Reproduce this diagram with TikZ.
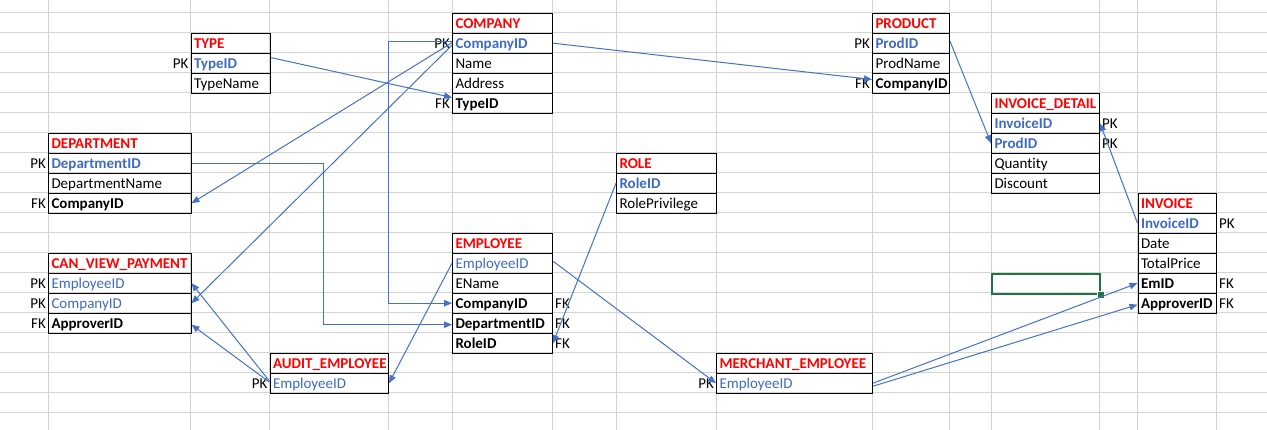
\documentclass[tikz,border=0pt]{standalone}
\usepackage{fontspec}
\setmainfont[Ligatures=NoCommon]{Carlito}
\usetikzlibrary{arrows.meta}
\definecolor{keyblue}{HTML}{3F6BBE}
\definecolor{lineblue}{HTML}{4472C4}
\definecolor{gridgray}{HTML}{D4D4D4}
\definecolor{selgreen}{HTML}{217346}
\newcommand\xlfont{\fontsize{15}{17}\selectfont}
\tikzset{
  cell/.style={draw=black, line width=1pt, minimum height=20pt, inner xsep=3pt, inner ysep=0pt,
    text height=13pt, text depth=2pt, align=left, font=\xlfont, anchor=north west},
  hdr/.style={cell, font=\xlfont\bfseries, text=red},
  pkb/.style={cell, font=\xlfont\bfseries, text=keyblue},
  pkn/.style={cell, text=keyblue},
  fk/.style={cell, font=\xlfont\bfseries},
  tagl/.style={font=\xlfont, inner sep=0pt, anchor=base east},
  tagr/.style={font=\xlfont, inner sep=0pt, anchor=base west},
  gridline/.style={draw=gridgray, line width=1pt},
  rel/.style={draw=lineblue, line width=1pt, -{Triangle[length=8pt,width=6.5pt]}},
}
\begin{document}
\begin{tikzpicture}[x=1pt,y=-1pt]
\useasboundingbox (0,0) rectangle (1267,430);
\fill[white] (0,0) rectangle (1267,430);
% grid
\foreach \x in {48,190.5,269.5,388,452,552,616,716,872,949,991,1099,1137.5,1216}
  \draw[gridline] (\x,0) -- (\x,430);
\foreach \k in {0,...,20}
  \draw[gridline] (0,{12.7+20*\k}) -- (1267,{12.7+20*\k});

% TYPE
\node[hdr, text width=73pt] (type-h) at (190.5,32.7) {TYPE};
\node[pkb, text width=73pt] (type-TypeID) at (190.5,52.7) {TypeID};
\node[cell, text width=73pt] (type-TypeName) at (190.5,72.7) {TypeName};
\node[tagl] (type-pk) at ([xshift=-2pt]type-TypeID.base west) {PK};

% COMPANY
\node[hdr, text width=94pt] (company-h) at (452,12.7) {COMPANY};
\node[pkb, text width=94pt] (company-CompanyID) at (452,32.7) {CompanyID};
\node[cell, text width=94pt] (company-Name) at (452,52.7) {Name};
\node[cell, text width=94pt] (company-Address) at (452,72.7) {Address};
\node[fk, text width=94pt] (company-TypeID) at (452,92.7) {TypeID};
\node[tagl] (company-pk) at ([xshift=-2pt]company-CompanyID.base west) {PK};
\node[tagl] (company-fk) at ([xshift=-2pt]company-TypeID.base west) {FK};

% PRODUCT
\node[hdr, text width=71pt] (product-h) at (872,12.7) {PRODUCT};
\node[pkb, text width=71pt] (product-ProdID) at (872,32.7) {ProdID};
\node[cell, text width=71pt] (product-ProdName) at (872,52.7) {ProdName};
\node[fk, text width=71pt] (product-CompanyID) at (872,72.7) {CompanyID};
\node[tagl] (product-pk) at ([xshift=-2pt]product-ProdID.base west) {PK};
\node[tagl] (product-fk) at ([xshift=-2pt]product-CompanyID.base west) {FK};

% INVOICE_DETAIL
\node[hdr, text width=102pt] (invdet-h) at (991,92.7) {INVOICE\_DETAIL};
\node[pkb, text width=102pt] (invdet-InvoiceID) at (991,112.7) {InvoiceID};
\node[pkb, text width=102pt] (invdet-ProdID) at (991,132.7) {ProdID};
\node[cell, text width=102pt] (invdet-Quantity) at (991,152.7) {Quantity};
\node[cell, text width=102pt] (invdet-Discount) at (991,172.7) {Discount};
\node[tagr] (invdet-pk1) at ([xshift=2pt]invdet-InvoiceID.base east) {PK};
\node[tagr] (invdet-pk2) at ([xshift=2pt]invdet-ProdID.base east) {PK};

% DEPARTMENT
\node[hdr, text width=136.5pt] (dept-h) at (48,132.7) {DEPARTMENT};
\node[pkb, text width=136.5pt] (dept-DepartmentID) at (48,152.7) {DepartmentID};
\node[cell, text width=136.5pt] (dept-DepartmentName) at (48,172.7) {DepartmentName};
\node[fk, text width=136.5pt] (dept-CompanyID) at (48,192.7) {CompanyID};
\node[tagl] (dept-pk) at ([xshift=-2pt]dept-DepartmentID.base west) {PK};
\node[tagl] (dept-fk) at ([xshift=-2pt]dept-CompanyID.base west) {FK};

% ROLE
\node[hdr, text width=94pt] (role-h) at (616,152.7) {ROLE};
\node[pkb, text width=94pt] (role-RoleID) at (616,172.7) {RoleID};
\node[cell, text width=94pt] (role-RolePrivilege) at (616,192.7) {RolePrivilege};

% INVOICE
\node[hdr, text width=72.5pt] (inv-h) at (1137.5,192.7) {INVOICE};
\node[pkb, text width=72.5pt] (inv-InvoiceID) at (1137.5,212.7) {InvoiceID};
\node[cell, text width=72.5pt] (inv-Date) at (1137.5,232.7) {Date};
\node[cell, text width=72.5pt] (inv-TotalPrice) at (1137.5,252.7) {TotalPrice};
\node[fk, text width=72.5pt] (inv-EmID) at (1137.5,272.7) {EmID};
\node[fk, text width=72.5pt] (inv-ApproverID) at (1137.5,292.7) {ApproverID};
\node[tagr] (inv-pk) at ([xshift=2pt]inv-InvoiceID.base east) {PK};
\node[tagr] (inv-fk1) at ([xshift=2pt]inv-EmID.base east) {FK};
\node[tagr] (inv-fk2) at ([xshift=2pt]inv-ApproverID.base east) {FK};

% EMPLOYEE
\node[hdr, text width=94pt] (emp-h) at (452,232.7) {EMPLOYEE};
\node[pkn, text width=94pt] (emp-EmployeeID) at (452,252.7) {EmployeeID};
\node[cell, text width=94pt] (emp-EName) at (452,272.7) {EName};
\node[fk, text width=94pt] (emp-CompanyID) at (452,292.7) {CompanyID};
\node[fk, text width=94pt] (emp-DepartmentID) at (452,312.7) {DepartmentID};
\node[fk, text width=94pt] (emp-RoleID) at (452,332.7) {RoleID};
\node[tagr] (emp-fk1) at ([xshift=2pt]emp-CompanyID.base east) {FK};
\node[tagr] (emp-fk2) at ([xshift=2pt]emp-DepartmentID.base east) {FK};
\node[tagr] (emp-fk3) at ([xshift=2pt]emp-RoleID.base east) {FK};

% CAN_VIEW_PAYMENT
\node[hdr, text width=136.5pt] (cvp-h) at (48,252.7) {CAN\_VIEW\_PAYMENT};
\node[pkn, text width=136.5pt] (cvp-EmployeeID) at (48,272.7) {EmployeeID};
\node[pkn, text width=136.5pt] (cvp-CompanyID) at (48,292.7) {CompanyID};
\node[fk, text width=136.5pt] (cvp-ApproverID) at (48,312.7) {ApproverID};
\node[tagl] (cvp-pk1) at ([xshift=-2pt]cvp-EmployeeID.base west) {PK};
\node[tagl] (cvp-pk2) at ([xshift=-2pt]cvp-CompanyID.base west) {PK};
\node[tagl] (cvp-fk) at ([xshift=-2pt]cvp-ApproverID.base west) {FK};

% AUDIT_EMPLOYEE
\node[hdr, text width=112.5pt] (audit-h) at (269.5,352.7) {AUDIT\_EMPLOYEE};
\node[pkn, text width=112.5pt] (audit-EmployeeID) at (269.5,372.7) {EmployeeID};
\node[tagl] (audit-pk) at ([xshift=-2pt]audit-EmployeeID.base west) {PK};

% MERCHANT_EMPLOYEE
\node[hdr, text width=150pt] (merch-h) at (716,352.7) {MERCHANT\_EMPLOYEE};
\node[pkn, text width=150pt] (merch-EmployeeID) at (716,372.7) {EmployeeID};
\node[tagl] (merch-pk) at ([xshift=-2pt]merch-EmployeeID.base west) {PK};

% selected cell
\node[draw=selgreen, line width=2pt, minimum width=108pt, minimum height=20pt, inner sep=0pt, anchor=north west] (sel) at (991,272.7) {};
\node[fill=selgreen, draw=white, line width=0.8pt, minimum size=6.5pt, inner sep=0pt] (selhandle) at (sel.south east) {};

% connectors
\draw[rel] ([yshift=5.7pt]type-TypeID.east) -- ([yshift=5.7pt]company-TypeID.west);
\draw[rel] (company-CompanyID.east) -- ([yshift=3.7pt]product-CompanyID.west);
\draw[rel] ([yshift=1.5pt]company-CompanyID.west) -- ++(-63.5,0) |- (emp-CompanyID.west);
\draw[rel] ([yshift=0.5pt]company-CompanyID.west) -- (dept-CompanyID.east);
\draw[rel] ([yshift=-2pt]company-CompanyID.west) -- (cvp-CompanyID.east);
\draw[rel] (dept-DepartmentID.east) -- ++(132,0) |- ([yshift=-1.5pt]emp-DepartmentID.west);
\draw[rel] (emp-EmployeeID.west) -- (audit-EmployeeID.east);
\draw[rel] ([yshift=2pt]emp-EmployeeID.east) -- (merch-EmployeeID.west);
\draw[rel] (role-RoleID.west) -- (emp-RoleID.east);
\draw[rel] ([yshift=2pt]product-ProdID.east) -- (invdet-ProdID.west);
\draw[rel] (inv-InvoiceID.west) -- (invdet-InvoiceID.east);
\draw[rel] (merch-EmployeeID.east) -- (inv-EmID.west);
\draw[rel] ([yshift=-3pt]merch-EmployeeID.east) -- ([yshift=-1.5pt]inv-ApproverID.west);
\draw[rel] ([yshift=2pt]audit-EmployeeID.west) -- (cvp-EmployeeID.east);
\draw[rel] ([yshift=1pt]audit-EmployeeID.west) -- ([yshift=-1.5pt]cvp-ApproverID.east);
\end{tikzpicture}
\end{document}
